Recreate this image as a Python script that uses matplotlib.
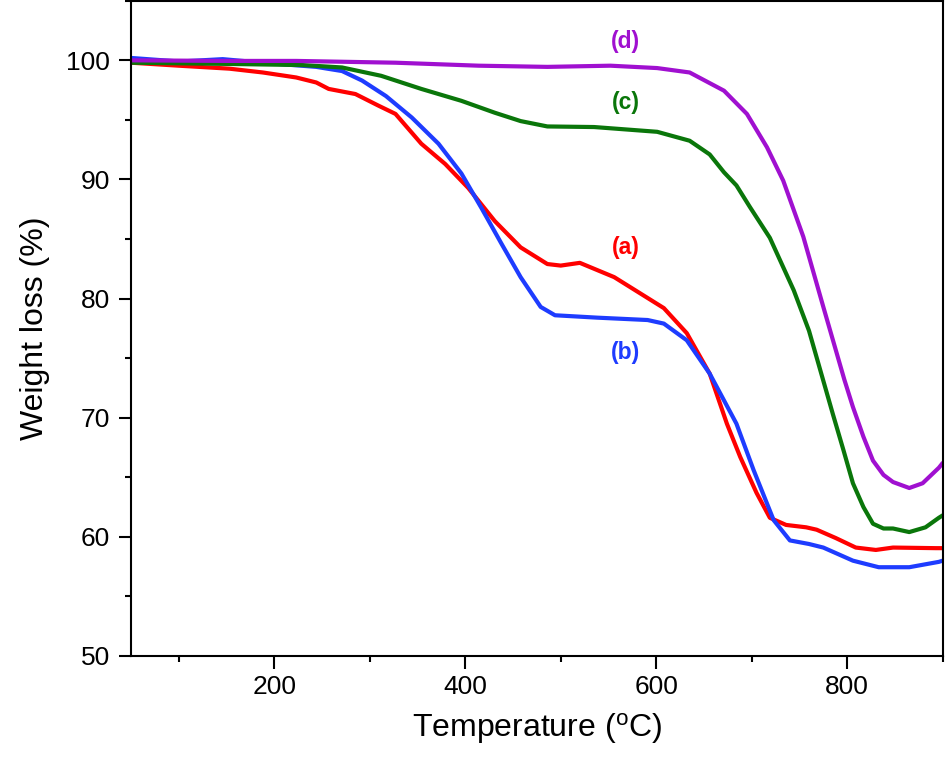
import matplotlib
matplotlib.use('Agg')
import matplotlib.pyplot as plt
from matplotlib.ticker import MultipleLocator

plt.rcParams['font.family'] = ['Liberation Sans', 'DejaVu Sans']
plt.rcParams['mathtext.default'] = 'regular'

# TGA curves: temperature (oC) -> weight (%)
temp_a = [50, 100, 153, 188, 223, 244, 257, 285, 309, 327, 354, 379, 403, 431, 458, 486, 500,
          520, 556, 608, 632, 656, 674, 688, 705, 719, 736, 757, 768, 788, 809, 830, 848, 893, 900]
weight_a = [99.8, 99.55, 99.3, 98.98, 98.56, 98.14, 97.6, 97.17, 96.2, 95.5, 93.0, 91.3, 89.3, 86.5,
            84.3, 82.9, 82.77, 83.0, 81.8, 79.2, 77.1, 73.7, 69.5, 66.7, 63.7, 61.6, 61.0, 60.8,
            60.6, 59.9, 59.1, 58.9, 59.1, 59.05, 59.05]

temp_b = [50, 101, 146, 188, 244, 271, 292, 317, 344, 372, 396, 417, 438, 458, 479, 494, 538,
          591, 608, 632, 656, 684, 702, 723, 740, 760, 775, 806, 833, 865, 896, 900]
weight_b = [100.2, 99.9, 100.1, 99.8, 99.45, 99.1, 98.3, 97.0, 95.2, 93.0, 90.5, 87.6, 84.6, 81.8,
            79.3, 78.6, 78.4, 78.2, 77.9, 76.5, 73.7, 69.5, 65.6, 61.4, 59.7, 59.4, 59.1, 58.0,
            57.45, 57.45, 57.9, 58.0]

temp_c = [50, 150, 230, 271, 312, 354, 396, 431, 458, 486, 535, 601, 635, 656, 671, 684, 698,
          719, 744, 760, 775, 785, 796, 806, 817, 827, 838, 848, 865, 882, 896, 900]
weight_c = [99.8, 99.7, 99.6, 99.4, 98.7, 97.6, 96.6, 95.6, 94.9, 94.45, 94.4, 94.0, 93.25, 92.1,
            90.6, 89.5, 87.7, 85.1, 80.7, 77.3, 73.1, 70.3, 67.3, 64.5, 62.5, 61.1, 60.7, 60.7,
            60.4, 60.8, 61.6, 61.8]

temp_d = [50, 150, 223, 327, 414, 486, 552, 601, 635, 671, 695, 716, 733, 754, 775, 797,
          806, 817, 827, 838, 848, 865, 879, 896, 900]
weight_d = [100.0, 99.95, 99.95, 99.8, 99.55, 99.45, 99.55, 99.35, 98.98, 97.45, 95.5, 92.7, 89.9,
            85.2, 79.3, 73.2, 70.9, 68.4, 66.4, 65.2, 64.6, 64.1, 64.5, 65.8, 66.2]

labels = ['(a)', '(b)', '(c)', '(d)']
label_x = [568, 568, 568, 568]
label_y = [84.3, 75.5, 96.5, 101.6]
colors = ['#ff0000', '#1e3cff', '#0a760a', '#a010d0']

fig = plt.figure(figsize=(9.46, 7.64), dpi=100)
ax = fig.add_axes([0.1385, 0.1414, 0.858, 0.8576])

for t, w, c in zip([temp_a, temp_b, temp_c, temp_d], [weight_a, weight_b, weight_c, weight_d], colors):
    ax.plot(t, w, color=c, lw=3, solid_joinstyle='round', solid_capstyle='round')

for lab, x, y, c in zip(labels, label_x, label_y, colors):
    ax.text(x, y, lab, color=c, fontsize=16.5, fontweight='bold', ha='center', va='center')

ax.set_xlim(50, 900)
ax.set_ylim(50, 105)
ax.xaxis.set_major_locator(MultipleLocator(200))
ax.xaxis.set_minor_locator(MultipleLocator(100))
ax.yaxis.set_major_locator(MultipleLocator(10))
ax.yaxis.set_minor_locator(MultipleLocator(5))
ax.tick_params(which='both', direction='out', width=1.5, labelsize=19, top=False, right=False)
ax.tick_params(which='major', length=9)
ax.tick_params(which='minor', length=4.5)
ax.tick_params(axis='y', pad=6)
ax.tick_params(axis='x', pad=5)
for s in ax.spines.values():
    s.set_linewidth(1.5)

ax.set_xlabel('Temperature ($^{o}$C)', fontsize=23, labelpad=8)
ax.set_ylabel('Weight loss (%)', fontsize=23, labelpad=12)

fig.savefig('out.png', dpi=100)
